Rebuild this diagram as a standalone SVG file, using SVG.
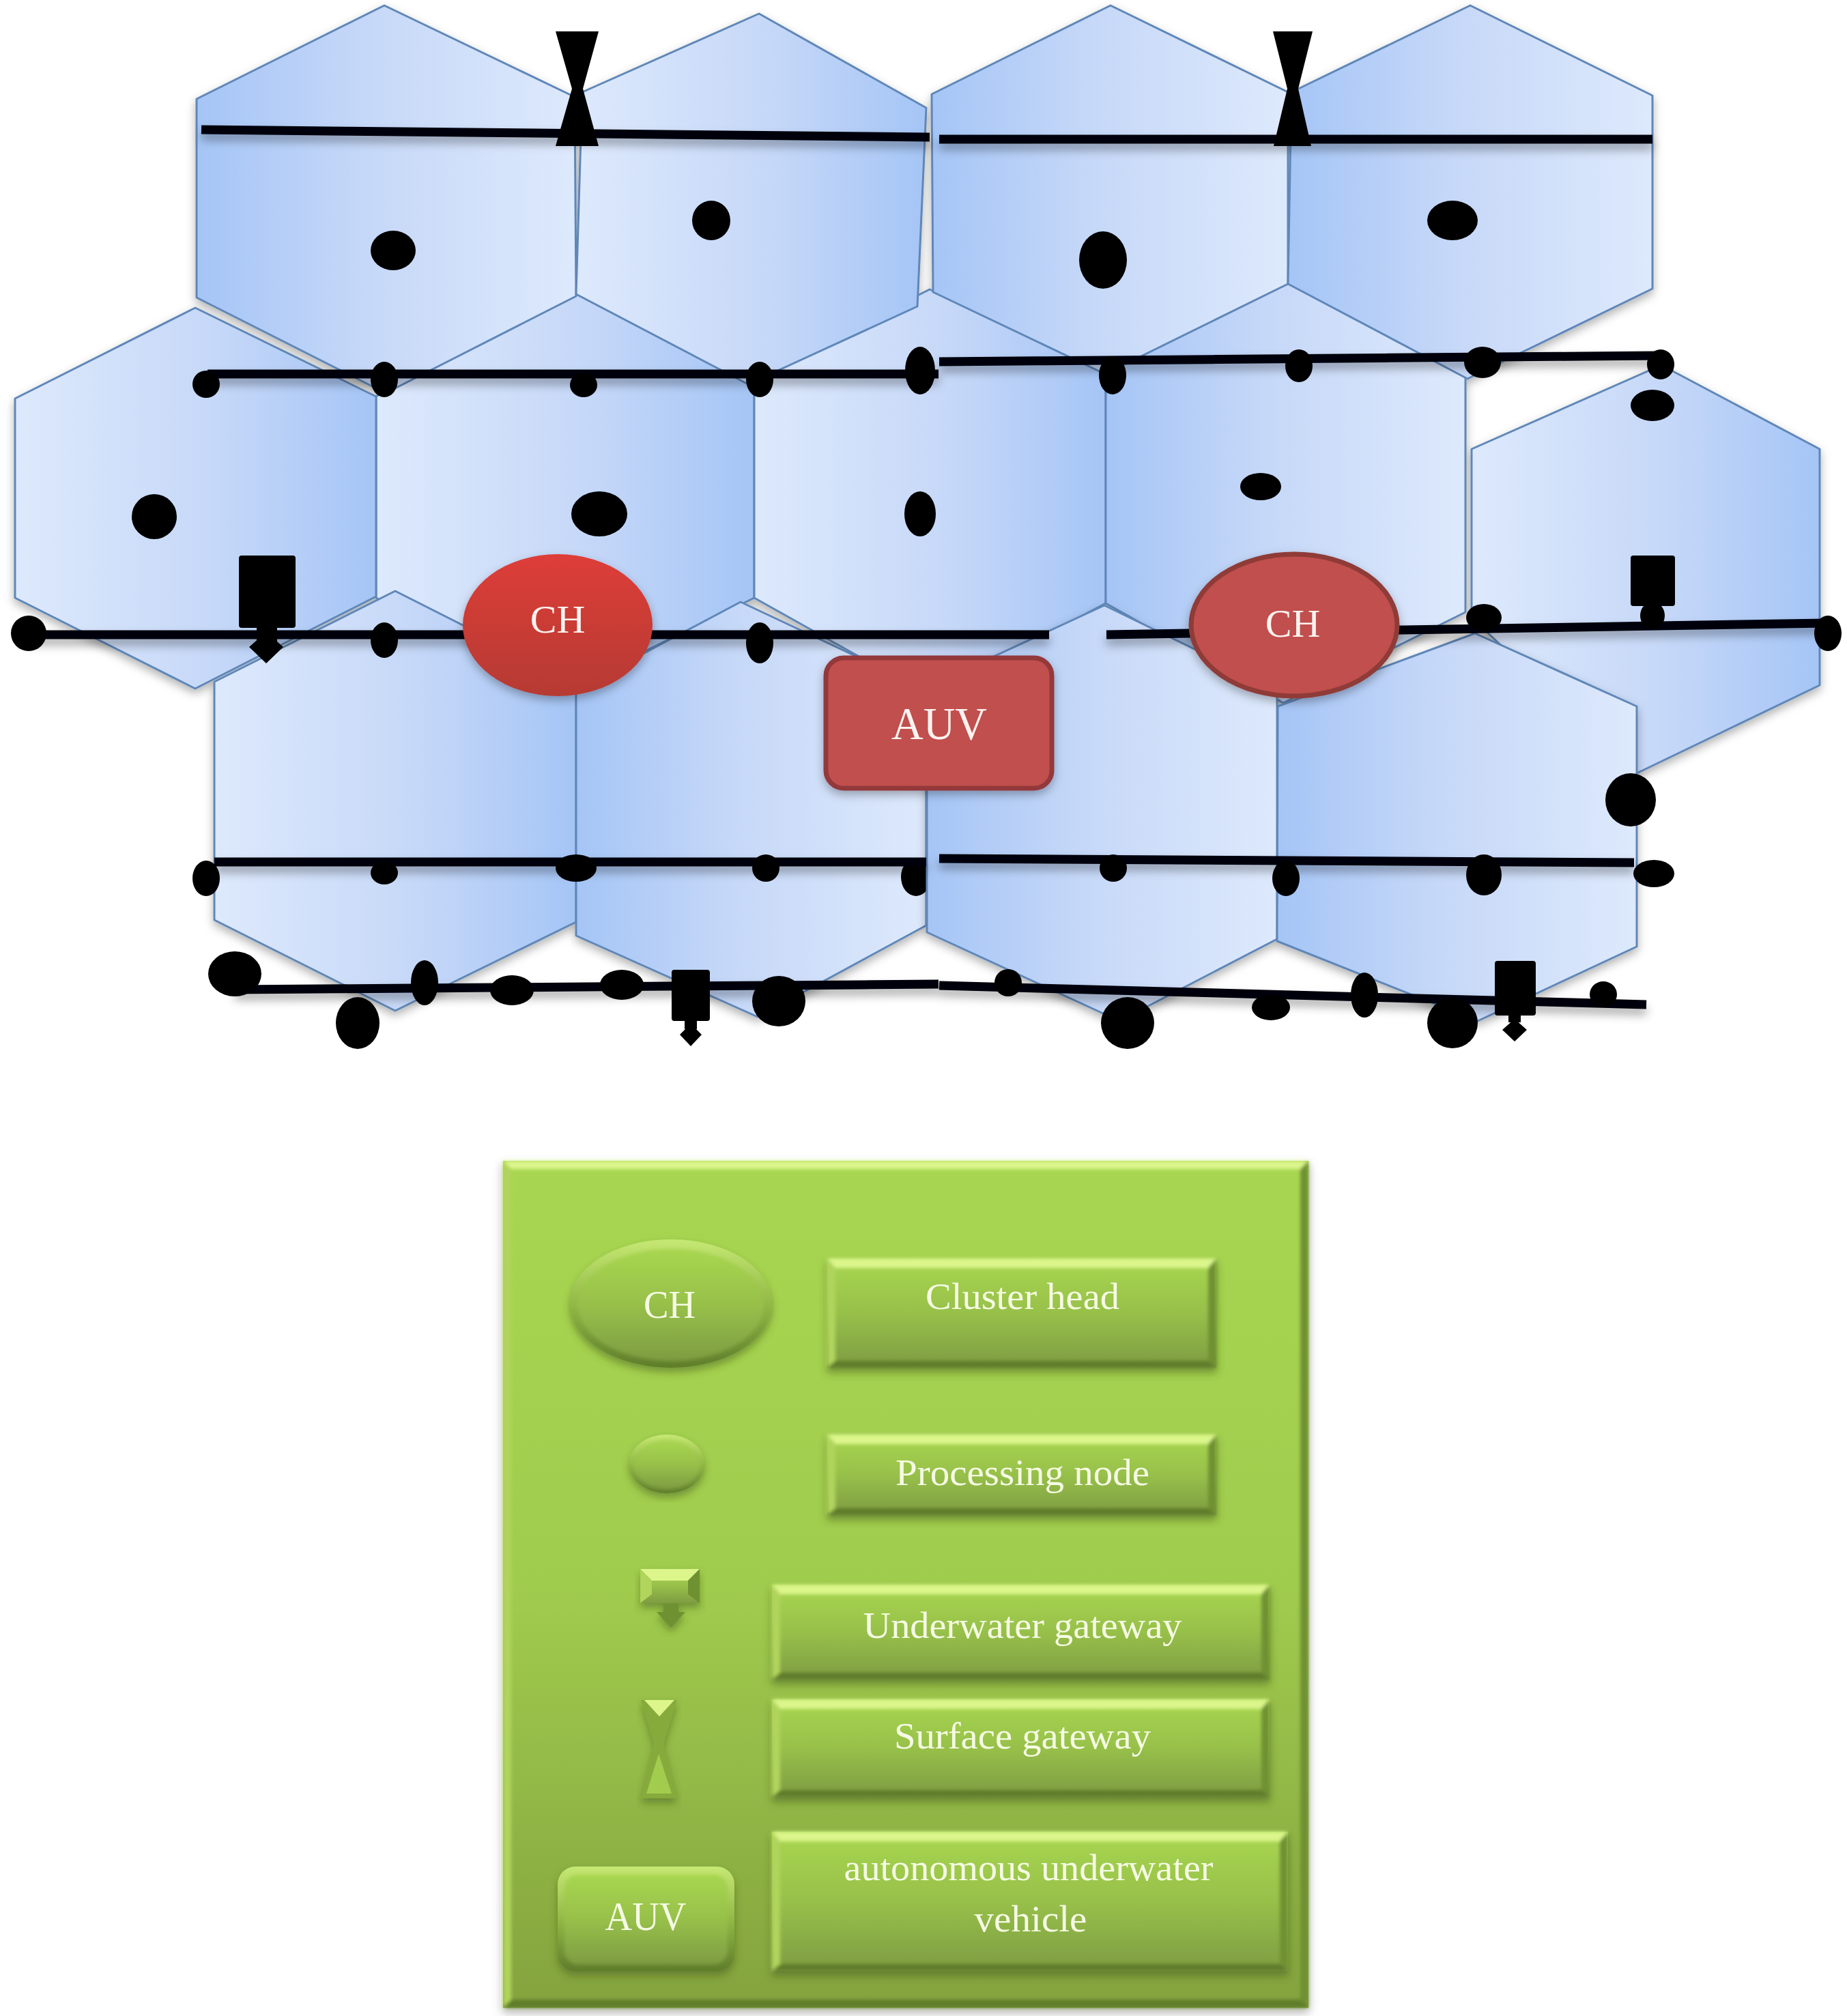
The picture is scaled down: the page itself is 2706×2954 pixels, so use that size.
<svg xmlns="http://www.w3.org/2000/svg" width="2706" height="2954" viewBox="0 0 2706 2954">
<style>
.hex{stroke:#5f87b8;stroke-width:3;stroke-linejoin:round}
.lr{fill:url(#hLR)}.rl{fill:url(#hRL)}
.s{fill:#000}
.w{stroke:#02020c;stroke-width:13;fill:none}
.t{font-family:"Liberation Serif",serif;text-anchor:middle;fill:#f6fbe4}
.r{font-family:"Liberation Serif",serif;text-anchor:middle;fill:#fdf3f0}
.hi{fill:#dcf68c}.lo{fill:#5f7d2b}.li{fill:#b0d45c}.dk{fill:#6f9133}
.btn{fill:url(#gBtn)}
</style>
<defs>
<linearGradient id="hLR" x1="0" y1="0" x2="1" y2="0"><stop offset="0" stop-color="#dde9fc"/><stop offset=".55" stop-color="#c6d8f8"/><stop offset="1" stop-color="#a5c5f6"/></linearGradient>
<linearGradient id="hRL" x1="0" y1="0" x2="1" y2="0"><stop offset="0" stop-color="#a5c5f6"/><stop offset=".45" stop-color="#c6d8f8"/><stop offset="1" stop-color="#dde9fc"/></linearGradient>
<linearGradient id="gPanel" x1="0" y1="0" x2="0" y2="1"><stop offset="0" stop-color="#a8d651"/><stop offset=".5" stop-color="#a0cc4e"/><stop offset="1" stop-color="#84a33e"/></linearGradient>
<linearGradient id="gBtn" x1="0" y1="0" x2="0" y2="1"><stop offset="0" stop-color="#a8d650"/><stop offset=".5" stop-color="#97c04a"/><stop offset="1" stop-color="#7e9c42"/></linearGradient>
<linearGradient id="gRim" x1="0" y1="0" x2="0" y2="1"><stop offset="0" stop-color="#c6e874"/><stop offset=".5" stop-color="#92ba46"/><stop offset="1" stop-color="#5f7d2b"/></linearGradient>
<linearGradient id="gCh1" x1="0" y1="0" x2="0" y2="1"><stop offset="0" stop-color="#de3d38"/><stop offset="1" stop-color="#b53a33"/></linearGradient>
<filter id="sh" x="-20%" y="-20%" width="140%" height="140%"><feDropShadow dx="0" dy="6" stdDeviation="7" flood-color="#000" flood-opacity=".3"/></filter>
<filter id="shl" filterUnits="userSpaceOnUse" x="0" y="0" width="2706" height="1700"><feDropShadow dx="0" dy="9" stdDeviation="7" flood-color="#000" flood-opacity=".33"/></filter>
<filter id="shg" x="-10%" y="-10%" width="120%" height="125%"><feDropShadow dx="0" dy="7" stdDeviation="6" flood-color="#3c5018" flood-opacity=".45"/></filter>
<filter id="soft" x="-5%" y="-5%" width="110%" height="110%"><feGaussianBlur stdDeviation="2.5"/></filter>
<clipPath id="cutM"><rect x="1250" y="1200" width="108" height="160"/></clipPath>
</defs>
<rect width="2706" height="2954" fill="#fff"/>

<g id="cells-back" filter="url(#sh)">
<g id="cell-f"><polygon class="hex lr" points="848,400 1105,555 1105,876 830,1010 551,876 551,581"/></g>
<g id="cell-g"><polygon class="hex lr" points="1362,424 1620,545 1620,884 1362,1020 1105,876 1105,555"/></g>
<g id="cell-h"><polygon class="hex rl" points="1869,395 2147,550 2147,897 1880,1030 1620,884 1620,540"/></g>
<g id="cell-i"><polygon class="hex lr" points="2434,535 2666,658 2666,1004 2398,1133 2156,905 2156,658"/></g>
<g id="cell-a"><polygon class="hex rl" points="563,8 842,142 844,434 565,576 288,436 288,145"/></g>
<g id="cell-b"><polygon class="hex lr" points="1112,20 1357,158 1344,449 1096,563 844,431 853,135"/></g>
<g id="cell-c"><polygon class="hex rl" points="1627,8 1887,135 1887,416 1619,548 1367,428 1365,138"/></g>
<g id="cell-d"><polygon class="hex rl" points="2154,8 2421,140 2421,423 2150,555 1887,416 1892,135"/></g>
<g id="cell-e"><polygon class="hex lr" points="286,451 551,581 551,874 286,1009 22,876 22,584"/></g>
<g id="cell-k"><polygon class="hex lr" points="579,866 844,1000 844,1351 579,1481 314,1348 314,999"/></g>
<g id="cell-l"><polygon class="hex rl" points="1085,882 1357,1010 1357,1356 1110,1490 844,1371 844,1010"/></g>
</g>
<g id="node-clipped"><ellipse class="s" cx="1342" cy="1285" rx="22" ry="28" clip-path="url(#cutM)"/></g>
<g id="cells-front" filter="url(#sh)">
<g id="cell-m"><polygon class="hex rl" points="1618,887 1871,1010 1871,1376 1640,1496 1358,1366 1358,1007"/></g>
<g id="cell-n"><polygon class="hex rl" points="2161,928 2398,1035 2398,1387 2165,1496 1871,1379 1872,1035"/></g>
</g>

<g id="connectors" filter="url(#shl)">
<line class="w" x1="295" y1="190" x2="1362" y2="201"/>
<line class="w" x1="1376" y1="204" x2="2421" y2="204"/>
<line class="w" x1="304" y1="548" x2="1375" y2="548"/>
<line class="w" x1="1376" y1="530" x2="2434" y2="521"/>
<line class="w" x1="40" y1="930" x2="1537" y2="930"/>
<line class="w" x1="1621" y1="930" x2="2676" y2="913"/>
<line class="w" x1="314" y1="1263" x2="1357" y2="1263"/>
<line class="w" x1="1376" y1="1258" x2="2394" y2="1264"/>
<line class="w" x1="344" y1="1450" x2="1375" y2="1442"/>
<line class="w" x1="1376" y1="1444" x2="2412" y2="1472"/>
</g>

<g id="sensors">
<g id="n1"><ellipse class="s" cx="576" cy="367" rx="33" ry="29"/></g>
<g id="n2"><ellipse class="s" cx="1042" cy="323" rx="28" ry="29"/></g>
<g id="n3"><ellipse class="s" cx="1616" cy="381" rx="35" ry="42"/></g>
<g id="n4"><ellipse class="s" cx="2128" cy="323" rx="37" ry="29"/></g>
<g id="n5"><ellipse class="s" cx="226" cy="757" rx="33" ry="33"/></g>
<g id="n6"><ellipse class="s" cx="878" cy="753" rx="41" ry="33"/></g>
<g id="n7"><ellipse class="s" cx="1348" cy="753" rx="23" ry="33"/></g>
<g id="n8"><ellipse class="s" cx="1847" cy="713" rx="30" ry="20"/></g>
<g id="n9"><ellipse class="s" cx="2421" cy="594" rx="32" ry="23"/></g>
<g id="n10"><ellipse class="s" cx="302" cy="563" rx="20" ry="20"/></g>
<g id="n11"><ellipse class="s" cx="563" cy="556" rx="20" ry="26"/></g>
<g id="n12"><ellipse class="s" cx="855" cy="564" rx="20" ry="18"/></g>
<g id="n13"><ellipse class="s" cx="1113" cy="556" rx="20" ry="26"/></g>
<g id="n14"><ellipse class="s" cx="1348" cy="543" rx="22" ry="35"/></g>
<g id="n15"><ellipse class="s" cx="1630" cy="550" rx="20" ry="28"/></g>
<g id="n16"><ellipse class="s" cx="1903" cy="536" rx="20" ry="24"/></g>
<g id="n17"><ellipse class="s" cx="2172" cy="531" rx="27" ry="23"/></g>
<g id="n18"><ellipse class="s" cx="2433" cy="534" rx="20" ry="22"/></g>
<g id="n19"><ellipse class="s" cx="42" cy="928" rx="26" ry="26"/></g>
<g id="n20"><ellipse class="s" cx="563" cy="938" rx="20" ry="26"/></g>
<g id="n21"><ellipse class="s" cx="1113" cy="942" rx="20" ry="30"/></g>
<g id="n22"><ellipse class="s" cx="2174" cy="905" rx="26" ry="20"/></g>
<g id="n23"><ellipse class="s" cx="2678" cy="928" rx="20" ry="26"/></g>
<g id="n24"><ellipse class="s" cx="302" cy="1287" rx="20" ry="26"/></g>
<g id="n25"><ellipse class="s" cx="563" cy="1279" rx="20" ry="17"/></g>
<g id="n26"><ellipse class="s" cx="844" cy="1272" rx="30" ry="20"/></g>
<g id="n27"><ellipse class="s" cx="1122" cy="1272" rx="20" ry="20"/></g>
<g id="n28"><ellipse class="s" cx="1631" cy="1272" rx="20" ry="20"/></g>
<g id="n29"><ellipse class="s" cx="1884" cy="1287" rx="20" ry="26"/></g>
<g id="n30"><ellipse class="s" cx="2174" cy="1282" rx="26" ry="30"/></g>
<g id="n31"><ellipse class="s" cx="2423" cy="1280" rx="30" ry="20"/></g>
<g id="n32"><ellipse class="s" cx="2389" cy="1172" rx="37" ry="39"/></g>
<g id="n33"><ellipse class="s" cx="344" cy="1427" rx="39" ry="33"/></g>
<g id="n34"><ellipse class="s" cx="622" cy="1440" rx="20" ry="33"/></g>
<g id="n35"><ellipse class="s" cx="524" cy="1499" rx="32" ry="38"/></g>
<g id="n36"><ellipse class="s" cx="750" cy="1451" rx="32" ry="22"/></g>
<g id="n37"><ellipse class="s" cx="911" cy="1443" rx="32" ry="22"/></g>
<g id="n38"><ellipse class="s" cx="1141" cy="1467" rx="39" ry="37"/></g>
<g id="n39"><ellipse class="s" cx="1477" cy="1440" rx="20" ry="20"/></g>
<g id="n40"><ellipse class="s" cx="1652" cy="1499" rx="39" ry="38"/></g>
<g id="n41"><ellipse class="s" cx="1862" cy="1476" rx="28" ry="19"/></g>
<g id="n42"><ellipse class="s" cx="1999" cy="1458" rx="20" ry="33"/></g>
<g id="n43"><ellipse class="s" cx="2128" cy="1499" rx="37" ry="37"/></g>
<g id="n44"><ellipse class="s" cx="2349" cy="1457" rx="20" ry="19"/></g>
</g>

<g id="surface-gateway-1"><polygon class="s" points="814,46 877,46 854,130 877,214 814,214 838,130"/></g>
<g id="surface-gateway-2"><polygon class="s" points="1865,46 1923,46 1902,130 1921,214 1866,214 1886,130"/></g>
<g id="underwater-gateway-1"><rect class="s" x="350" y="814" width="83" height="106" rx="4"/><rect class="s" x="376" y="918" width="30" height="22"/><polygon class="s" points="390,926 415,948 390,972 365,948"/></g>
<g id="underwater-gateway-2"><rect class="s" x="2389" y="814" width="65" height="74" rx="4"/><ellipse class="s" cx="2421" cy="902" rx="18" ry="20"/></g>
<g id="underwater-gateway-3"><rect class="s" x="984" y="1421" width="56" height="75" rx="4"/><rect class="s" x="1003" y="1494" width="18" height="14"/><polygon class="s" points="1012,1500 1028,1516 1012,1533 996,1516"/></g>
<g id="underwater-gateway-4"><rect class="s" x="2190" y="1408" width="60" height="80" rx="4"/><rect class="s" x="2210" y="1486" width="18" height="12"/><polygon class="s" points="2219,1493 2237,1509 2219,1526 2201,1509"/></g>

<g id="ch-1" filter="url(#sh)"><ellipse cx="817" cy="916" rx="139" ry="104" fill="url(#gCh1)"/><text class="r" x="817" y="927" font-size="58">CH</text></g>
<g id="ch-2" filter="url(#sh)"><ellipse cx="1896" cy="916" rx="151" ry="104" fill="#c0504d" stroke="#8f3a37" stroke-width="7"/><text class="r" x="1894" y="933" font-size="58">CH</text></g>
<g id="auv" filter="url(#sh)"><rect x="1210" y="964" width="331" height="191" rx="26" fill="#c0504d" stroke="#93393a" stroke-width="7"/><text class="r" x="1376" y="1083" font-size="68" textLength="140" lengthAdjust="spacingAndGlyphs">AUV</text></g>

<g id="legend">
<g id="legend-panel" filter="url(#sh)">
<rect x="737" y="1701" width="1180" height="1241" fill="url(#gPanel)"/>
<g filter="url(#soft)">
<polygon class="hi" points="737,1701 1917,1701 1905,1713 749,1713"/>
<polygon class="li" points="737,1701 749,1713 749,2930 737,2942"/>
<polygon class="dk" points="1917,1701 1905,1713 1905,2930 1917,2942"/>
<polygon class="lo" points="737,2942 749,2930 1905,2930 1917,2942"/>
</g>
</g>
<g id="legend-ch" filter="url(#shg)"><ellipse cx="983" cy="1910" rx="148" ry="94" fill="url(#gRim)"/><ellipse cx="983" cy="1912" rx="136" ry="82" fill="url(#gBtn)" filter="url(#soft)"/><text class="t" x="981" y="1931" font-size="58" textLength="76" lengthAdjust="spacingAndGlyphs">CH</text></g>
<g id="legend-cluster-head" filter="url(#shg)">
<rect class="btn" x="1212" y="1844" width="570" height="160"/>
<g filter="url(#soft)"><polygon class="hi" points="1212,1844 1782,1844 1770,1858 1224,1858"/><polygon class="li" points="1212,1844 1224,1858 1224,1994 1212,2004"/><polygon class="dk" points="1782,1844 1770,1858 1770,1994 1782,2004"/><polygon class="lo" points="1212,2004 1224,1994 1770,1994 1782,2004"/></g>
<text class="t" x="1498" y="1918" font-size="54" textLength="284" lengthAdjust="spacingAndGlyphs">Cluster head</text></g>
<g id="legend-node" filter="url(#shg)"><ellipse cx="977" cy="2145" rx="55" ry="43" fill="url(#gRim)"/><ellipse cx="977" cy="2146" rx="48" ry="36" fill="url(#gBtn)" filter="url(#soft)"/></g>
<g id="legend-processing" filter="url(#shg)">
<rect class="btn" x="1212" y="2102" width="570" height="118"/>
<g filter="url(#soft)"><polygon class="hi" points="1212,2102 1782,2102 1770,2116 1224,2116"/><polygon class="li" points="1212,2102 1224,2116 1224,2210 1212,2220"/><polygon class="dk" points="1782,2102 1770,2116 1770,2210 1782,2220"/><polygon class="lo" points="1212,2220 1224,2210 1770,2210 1782,2220"/></g>
<text class="t" x="1498" y="2176" font-size="54" textLength="372" lengthAdjust="spacingAndGlyphs">Processing node</text></g>
<g id="legend-underwater-icon" filter="url(#shg)">
<polygon class="dk" points="972,2347 994,2347 994,2362 1004,2362 983,2385 962,2362 972,2362"/>
<rect class="btn" x="938" y="2299" width="87" height="50"/><polygon class="hi" points="938,2299 1025,2299 1008,2316 955,2316"/><polygon class="dk" points="1025,2299 1008,2316 1008,2336 1025,2349"/><polygon class="li" points="938,2299 955,2316 955,2336 938,2349"/>
</g>
<g id="legend-underwater" filter="url(#shg)">
<rect class="btn" x="1131" y="2322" width="729" height="139"/>
<g filter="url(#soft)"><polygon class="hi" points="1131,2322 1860,2322 1848,2336 1143,2336"/><polygon class="li" points="1131,2322 1143,2336 1143,2451 1131,2461"/><polygon class="dk" points="1860,2322 1848,2336 1848,2451 1860,2461"/><polygon class="lo" points="1131,2461 1143,2451 1848,2451 1860,2461"/></g>
<text class="t" x="1498" y="2400" font-size="54" textLength="467" lengthAdjust="spacingAndGlyphs">Underwater gateway</text></g>
<g id="legend-surface-icon" filter="url(#shg)">
<polygon points="939,2491 992,2491 972,2555 992,2635 939,2635 958,2555" fill="#87aa3e"/>
<polygon class="hi" points="944,2491 988,2491 966,2515"/>
<polygon points="965,2570 984,2628 947,2628" fill="#a2cc4d"/>
</g>
<g id="legend-surface" filter="url(#shg)">
<rect class="btn" x="1131" y="2490" width="729" height="143"/>
<g filter="url(#soft)"><polygon class="hi" points="1131,2490 1860,2490 1848,2504 1143,2504"/><polygon class="li" points="1131,2490 1143,2504 1143,2623 1131,2633"/><polygon class="dk" points="1860,2490 1848,2504 1848,2623 1860,2633"/><polygon class="lo" points="1131,2633 1143,2623 1848,2623 1860,2633"/></g>
<text class="t" x="1498" y="2562" font-size="54" textLength="376" lengthAdjust="spacingAndGlyphs">Surface gateway</text></g>
<g id="legend-auv-icon" filter="url(#shg)"><rect x="817" y="2735" width="259" height="153" rx="26" fill="url(#gRim)"/><rect x="827" y="2747" width="239" height="131" rx="20" fill="url(#gBtn)" filter="url(#soft)"/><text class="t" x="946" y="2828" font-size="60" textLength="119" lengthAdjust="spacingAndGlyphs">AUV</text></g>
<g id="legend-auv" filter="url(#shg)">
<rect class="btn" x="1131" y="2684" width="756" height="204"/>
<g filter="url(#soft)"><polygon class="hi" points="1131,2684 1887,2684 1875,2698 1143,2698"/><polygon class="li" points="1131,2684 1143,2698 1143,2878 1131,2888"/><polygon class="dk" points="1887,2684 1875,2698 1875,2878 1887,2888"/><polygon class="lo" points="1131,2888 1143,2878 1875,2878 1887,2888"/></g>
<text class="t" x="1507" y="2755" font-size="54" textLength="541" lengthAdjust="spacingAndGlyphs">autonomous underwater</text>
<text class="t" x="1510" y="2830" font-size="54" textLength="165" lengthAdjust="spacingAndGlyphs">vehicle</text></g>
</g>
</svg>
